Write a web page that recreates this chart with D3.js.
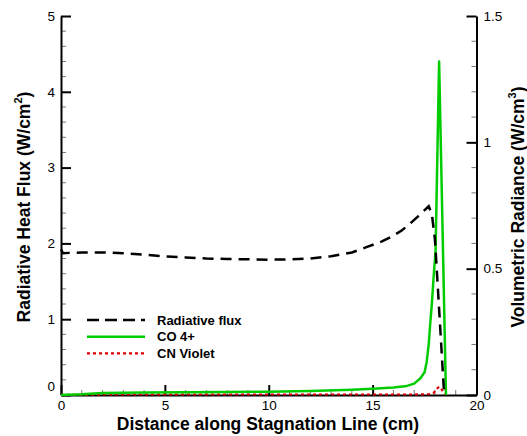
<!DOCTYPE html>
<html><head><meta charset="utf-8">
<script src="https://cdn.jsdelivr.net/npm/d3@7"></script>
<style>
html,body{margin:0;padding:0;background:#fff;}
text{font-family:"Liberation Sans",Arial,sans-serif;}
</style></head>
<body>
<svg id="c" width="527" height="436"></svg>
<script>
// Radiative flux (left axis, W/cm2)
const fluxX = [0, 0.1, 0.4, 1, 2, 3, 4, 5, 6, 7, 8, 9, 10, 11, 12, 13, 14, 14.7, 15.4, 15.85, 16.4, 16.8, 17.2, 17.7, 17.85, 18.0, 18.1, 18.42, 18.48];
const fluxY = [1.92, 1.87, 1.875, 1.88, 1.88, 1.87, 1.85, 1.83, 1.815, 1.80, 1.795, 1.79, 1.785, 1.79, 1.80, 1.83, 1.88, 1.95, 2.02, 2.08, 2.17, 2.26, 2.36, 2.49, 2.39, 2.05, 1.6, 0.11, 0.0];
// CO 4+ (right axis, W/cm3)
const coX = [0, 1, 2, 4, 6, 8, 10, 12, 14, 15, 16, 16.65, 17, 17.3, 17.5, 17.6, 17.7, 17.77, 17.85, 17.93, 18.03, 18.2, 18.53];
const coY = [0.0, 0.003, 0.008, 0.010, 0.011, 0.012, 0.013, 0.016, 0.021, 0.025, 0.030, 0.036, 0.045, 0.066, 0.09, 0.13, 0.2, 0.28, 0.36, 0.46, 0.57, 1.32, 0.0];
// CN Violet (right axis, W/cm3)
const cnX = [0, 2, 10, 17, 17.7, 17.93, 18.0, 18.1, 18.2, 18.3, 18.5];
const cnY = [0.0, 0.002, 0.002, 0.002, 0.003, 0.008, 0.015, 0.025, 0.033, 0.025, 0.0];

const xTicks = [0, 5, 10, 15, 20];
const yLeftTicks = [0, 1, 2, 3, 4, 5];
const yRightTicks = [0, 0.5, 1, 1.5];
const legendLabels = ["Radiative flux", "CO 4+", "CN Violet"];

const svg = d3.select("#c");
const L = 61, R = 476.5, T = 16, B = 395;
const x = d3.scaleLinear().domain([0, 20]).range([L, R]);
const yl = d3.scaleLinear().domain([0, 5]).range([B, T]);
const yr = d3.scaleLinear().domain([0, 1.5]).range([B, T]);

const fs = 13.5;
// minor ticks
const g = svg.append("g");
d3.range(0, 20.001, 1).forEach(v => {
  if (v % 5 !== 0) g.append("line").attr("x1", x(v)).attr("x2", x(v)).attr("y1", B).attr("y2", B - 5).attr("stroke", "#777").attr("stroke-width", 1);
});
d3.range(0, 5.001, 0.2).forEach(v => {
  if (Math.abs(v - Math.round(v)) > 1e-6) g.append("line").attr("x1", L).attr("x2", L + 5).attr("y1", yl(v)).attr("y2", yl(v)).attr("stroke", "#777").attr("stroke-width", 1);
});
d3.range(0, 1.5001, 0.1).forEach(v => {
  if (Math.abs(v * 2 - Math.round(v * 2)) > 1e-6) g.append("line").attr("x1", R).attr("x2", R - 5).attr("y1", yr(v)).attr("y2", yr(v)).attr("stroke", "#777").attr("stroke-width", 1);
});

// axes via d3
const xa = svg.append("g").attr("transform", `translate(0,${B})`)
  .call(d3.axisBottom(x).tickValues(xTicks).tickSizeInner(-10).tickSizeOuter(0).tickPadding(5).tickFormat(d3.format("d")));
const la = svg.append("g").attr("transform", `translate(${L},0)`)
  .call(d3.axisLeft(yl).tickValues(yLeftTicks).tickSizeInner(-10).tickSizeOuter(0).tickPadding(6).tickFormat(d3.format("d")));
const ra = svg.append("g").attr("transform", `translate(${R},0)`)
  .call(d3.axisRight(yr).tickValues(yRightTicks).tickSizeInner(-10).tickSizeOuter(0).tickPadding(7).tickFormat(d => String(d)));
[xa, la, ra].forEach(a => {
  a.select(".domain").attr("stroke", "#000").attr("stroke-width", 2);
  a.selectAll(".tick line").attr("stroke", "#000").attr("stroke-width", 2);
  a.selectAll(".tick text").attr("font-size", fs).attr("fill", "#000").attr("font-family", '"Liberation Sans",Arial,sans-serif');
});
la.selectAll(".tick text").filter(d => d === 0).attr("dy", "-0.3em");

// lines
const mk = (xs, ys, sc) => xs.map((v, i) => [x(v), sc(ys[i])]);
const line = d3.line();
svg.append("path").attr("d", line(mk(cnX, cnY, yr))).attr("fill", "none").attr("stroke", "#dd0000").attr("stroke-width", 2.2).attr("stroke-dasharray", "3,3");
svg.append("path").attr("d", line(mk(coX, coY, yr))).attr("fill", "none").attr("stroke", "#00cc00").attr("stroke-width", 2.5).attr("stroke-linejoin", "round");
svg.append("path").attr("d", line(mk(fluxX, fluxY, yl))).attr("fill", "none").attr("stroke", "#000").attr("stroke-width", 2.5).attr("stroke-dasharray", "11,7");

// legend
const legStyles = [
  {c: "#000", w: 2.5, d: "12,6"},
  {c: "#00cc00", w: 2.5, d: null},
  {c: "#dd0000", w: 2.2, d: "3,3"}
];
legendLabels.forEach((lab, i) => {
  const yy = 320 + i * 16.7;
  const ln = svg.append("line").attr("x1", 87).attr("x2", 145).attr("y1", yy).attr("y2", yy)
    .attr("stroke", legStyles[i].c).attr("stroke-width", legStyles[i].w);
  if (legStyles[i].d) ln.attr("stroke-dasharray", legStyles[i].d);
  svg.append("text").attr("x", 157).attr("y", yy + 4.5).attr("font-size", 13).attr("font-weight", "bold").text(lab);
});

// titles
svg.append("text").attr("x", 268).attr("y", 430).attr("text-anchor", "middle").attr("font-size", 17.5).attr("font-weight", "bold")
  .text("Distance along Stagnation Line (cm)");
const lt = svg.append("text").attr("transform", "translate(30,207) rotate(-90)").attr("text-anchor", "middle").attr("font-size", 17.5).attr("font-weight", "bold");
lt.append("tspan").text("Radiative Heat Flux (W/cm");
lt.append("tspan").attr("font-size", 11).attr("dy", -8).text("2");
lt.append("tspan").attr("dy", 8).text(")");
const rt = svg.append("text").attr("transform", "translate(524,207) rotate(-90)").attr("text-anchor", "middle").attr("font-size", 17.5).attr("font-weight", "bold");
rt.append("tspan").text("Volumetric Radiance (W/cm");
rt.append("tspan").attr("font-size", 11).attr("dy", -8).text("3");
rt.append("tspan").attr("dy", 8).text(")");
</script>
</body></html>
